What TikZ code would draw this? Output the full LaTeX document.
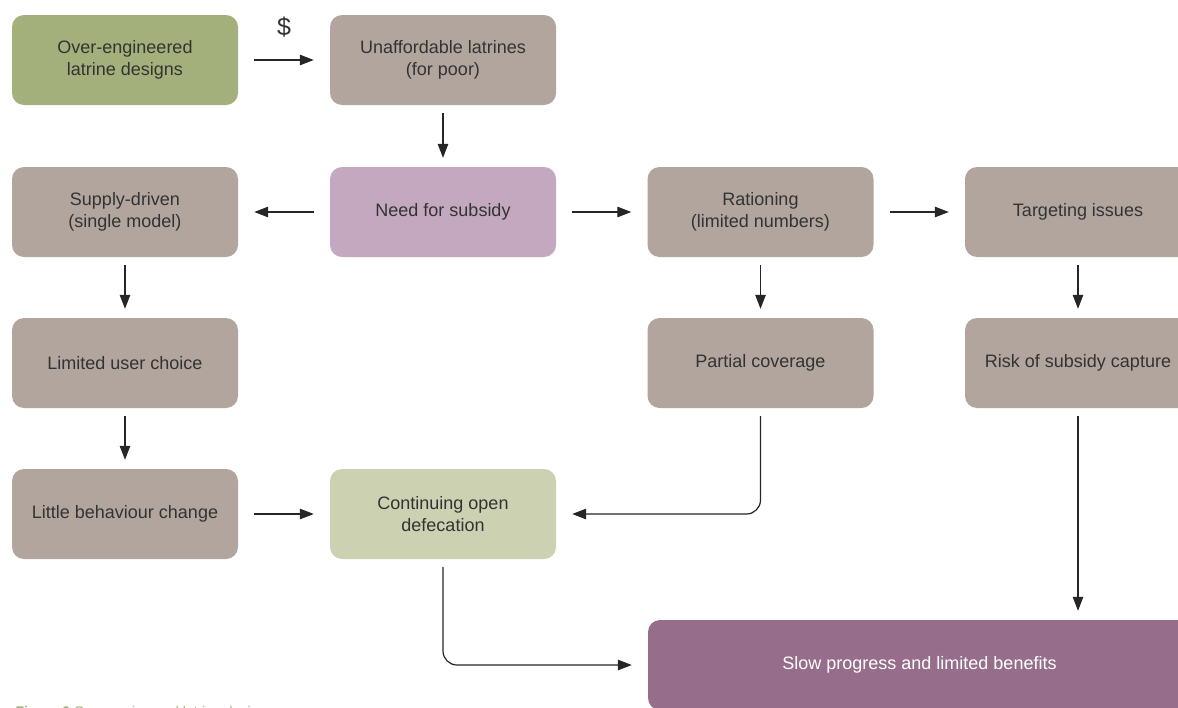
\documentclass[tikz,border=0pt]{standalone}
\usepackage{fontspec}
\setmainfont{Liberation Sans}
\usetikzlibrary{arrows.meta}
\definecolor{cgreen}{HTML}{A4B07B}
\definecolor{ctaupe}{HTML}{B2A59D}
\definecolor{cpink}{HTML}{C3A8C0}
\definecolor{clgreen}{HTML}{CBD1B1}
\definecolor{cpurple}{HTML}{966E8B}
\definecolor{ctext}{HTML}{333333}
\definecolor{ccap}{HTML}{A4B07B}
\tikzset{
  box/.style={rectangle, rounded corners=12pt, minimum width=226pt, minimum height=90pt,
    inner sep=0pt, align=center, text=ctext, font=\fontsize{18}{21.5}\selectfont},
  arr/.style={draw=black!85, line width=1.2pt, -{Triangle[length=14pt,width=10.5pt]},
    shorten >=16pt, shorten <=16pt},
  varr/.style={arr, shorten >=9pt, shorten <=8pt},
  rarr/.style={arr, rounded corners=14pt, shorten <=8pt, shorten >=16pt},
}
\begin{document}
\begin{tikzpicture}[x=1pt,y=-1pt]
\useasboundingbox (0,0) rectangle (1178,707);
\node[box, fill=cgreen] (over) at (125,60) {Over-engineered\\latrine designs};
\node[box, fill=ctaupe] (unaff) at (443,60) {Unaffordable latrines\\(for poor)};
\node[box, fill=ctaupe] (supply) at (125,212) {Supply-driven\\(single model)};
\node[box, fill=cpink] (need) at (443,212) {Need for subsidy};
\node[box, fill=ctaupe] (ration) at (760.5,212) {Rationing\\(limited numbers)};
\node[box, fill=ctaupe] (target) at (1078,212) {Targeting issues};
\node[box, fill=ctaupe] (choice) at (125,363) {Limited user choice};
\node[box, fill=ctaupe] (partial) at (760.5,363) {Partial coverage};
\node[box, fill=ctaupe] (risk) at (1078,363) {Risk of subsidy capture};
\node[box, fill=ctaupe] (little) at (125,514) {Little behaviour change};
\node[box, fill=clgreen] (open) at (443,514) {Continuing open\\defecation};
\node[box, fill=cpurple, minimum width=543pt, text=white] (slow) at (919.5,665) {Slow progress and limited benefits};

\draw[arr] (over) -- node[above=19pt, font=\fontsize{25}{25}\selectfont, text=ctext] {\$} (unaff);
\draw[varr] (unaff) -- (need);
\draw[arr] (need) -- (supply);
\draw[arr] (need) -- (ration);
\draw[arr] (ration) -- (target);
\draw[varr] (supply) -- (choice);
\draw[varr] (ration) -- (partial);
\draw[varr] (target) -- (risk);
\draw[varr] (choice) -- (little);
\draw[arr] (little) -- (open);
\draw[varr] (risk) -- (risk |- slow.north);
\draw[rarr] (partial) |- (open);
\draw[rarr] (open) |- (slow);

\node[anchor=base west, font=\fontsize{14}{16}\selectfont, text=ccap] (cap) at (12,716)
  {\textbf{Figure 6} Over-engineered latrine designs};
\end{tikzpicture}
\end{document}
